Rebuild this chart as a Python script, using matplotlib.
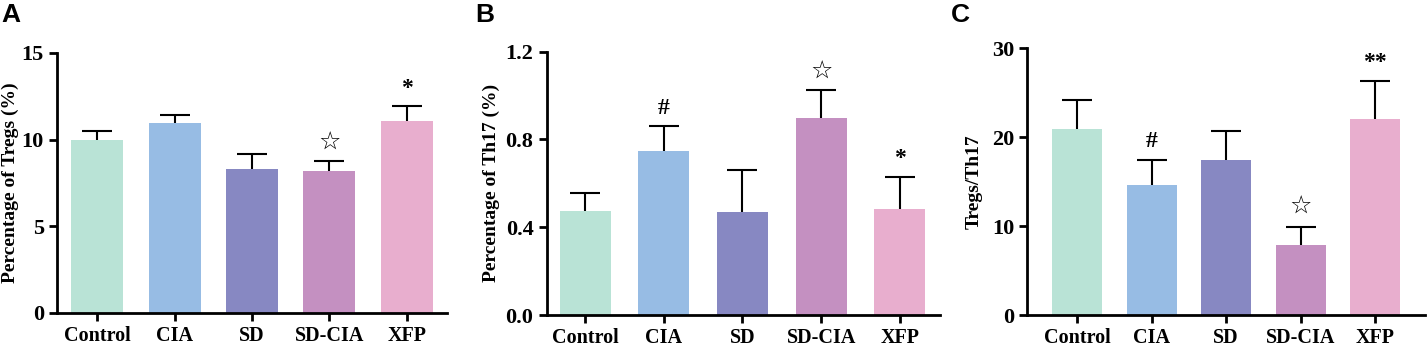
import matplotlib.pyplot as plt
from matplotlib.ticker import FormatStrFormatter

groups = ['Control', 'CIA', 'SD', 'SD-CIA', 'XFP']
colors = ['#b9e3d6', '#97bce4', '#8788c2', '#c490c1', '#e8aece']

# panel A: percentage of Tregs
tregs_mean = [10.0, 10.95, 8.3, 8.22, 11.05]
tregs_err = [0.52, 0.45, 0.88, 0.55, 0.9]
tregs_marks = ['', '', '', '\u2606', '*']

# panel B: percentage of Th17
th17_mean = [0.474, 0.747, 0.471, 0.898, 0.483]
th17_err = [0.082, 0.114, 0.19, 0.126, 0.147]
th17_marks = ['', '#', '', '\u2606', '*']

# panel C: Tregs/Th17 ratio
ratio_mean = [20.9, 14.6, 17.4, 7.84, 22.08]
ratio_err = [3.25, 2.8, 3.3, 2.1, 4.2]
ratio_marks = ['', '#', '', '\u2606', '**']

plt.rcParams['font.family'] = ['Liberation Serif', 'DejaVu Sans']
plt.rcParams['font.weight'] = 'bold'

fig = plt.figure(figsize=(14.28, 3.49), dpi=100)

panels = [
    # letter, rect, xlim, data, ylim, ticks, fmt, ylabel, bar width, mark offset, label x
    ('A', [0.0399, 0.1032, 0.2731, 0.7450], (-0.52, 4.52), tregs_mean, tregs_err, tregs_marks,
     (0, 15), [0, 5, 10, 15], '%d', 'Percentage of Tregs (%)', 0.67, 0.9, -0.098),
    ('B', [0.3828, 0.0974, 0.2754, 0.7545], (-0.49, 4.51), th17_mean, th17_err, th17_marks,
     (0, 1.2), [0, 0.4, 0.8, 1.2], '%.1f', 'Percentage of Th17 (%)', 0.65, 0.075, -0.118),
    ('C', [0.7194, 0.0974, 0.2785, 0.7642], (-0.67, 4.67), ratio_mean, ratio_err, ratio_marks,
     (0, 30), [0, 10, 20, 30], '%d', 'Tregs/Th17', 0.67, 2.2, -0.112),
]

letter_x = [0.001, 0.333, 0.666]

for i, (letter, rect, xlim, mean, err, marks, ylim, ticks, fmt, ylabel, bw, off, lx) in enumerate(panels):
    ax = fig.add_axes(rect)
    x = list(range(len(groups)))
    ax.bar(x, mean, width=bw, color=colors, zorder=2)
    eb = ax.errorbar(x, mean, yerr=[[0] * len(err), err], fmt='none', ecolor='black',
                     elinewidth=1.5, capsize=11, capthick=1.5, zorder=1)
    # only the upper cap is shown
    eb[1][0].set_visible(False)
    for xi, m, e, s in zip(x, mean, err, marks):
        if s:
            if s == '\u2606':
                ax.text(xi, m + e + off * 0.4, s, ha='center', va='bottom',
                        fontsize=18, fontweight='normal', family=['DejaVu Sans'])
            else:
                ax.text(xi, m + e + off * 0.45, s, ha='center', va='bottom',
                        fontsize=17, fontweight='bold')
    ax.set_xlim(*xlim)
    ax.set_ylim(*ylim)
    ax.set_yticks(ticks)
    ax.yaxis.set_major_formatter(FormatStrFormatter(fmt))
    ax.set_xticks(x)
    ax.set_xticklabels(groups)
    ax.spines['top'].set_visible(False)
    ax.spines['right'].set_visible(False)
    ax.spines['left'].set_linewidth(2)
    ax.spines['bottom'].set_linewidth(2)
    ax.tick_params(axis='both', width=2, length=6, direction='out')
    ax.tick_params(axis='x', labelsize=14.5)
    ax.tick_params(axis='y', labelsize=16)
    for lab in ax.get_xticklabels() + ax.get_yticklabels():
        lab.set_fontweight('bold')
    ax.set_ylabel(ylabel, fontsize=14, fontweight='bold')
    ax.yaxis.set_label_coords(lx, 0.5)
    fig.text(letter_x[i], 0.99, letter, ha='left', va='top', fontsize=19,
             fontweight='bold', family='Liberation Sans')

fig.savefig('out.png', dpi=100)
